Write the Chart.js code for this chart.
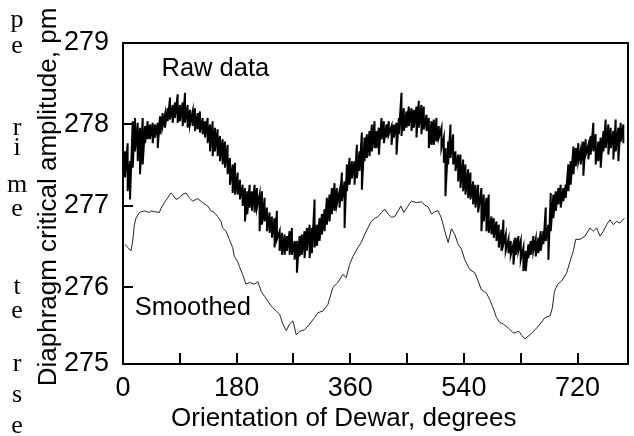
<!DOCTYPE html>
<html>
<head>
<meta charset="utf-8">
<script src="https://cdn.jsdelivr.net/npm/chart.js@4.4.1/dist/chart.umd.min.js"></script>
<style>
  html, body { margin: 0; padding: 0; background: #fff; }
  #wrap { position: relative; width: 634px; height: 436px; }
</style>
</head>
<body>
<div id="wrap"><canvas id="c" width="634" height="436"></canvas></div>
<script>
// ---- axis settings / tick labels ----
const xMin = 0, xMax = 800, xStep = 90;
const xTickLabels = [0, 180, 360, 540, 720];
const yMin = 275.06, yMax = 279;
const yTickLabels = [275, 276, 277, 278, 279];

// ---- raw data: orientation (degrees) with upper and lower extent of the noisy trace ----
const rawDeg = [
  0, 3.2, 7.4, 11.1, 15.4, 19.1, 23.3, 27.0, 31.2, 34.9,
  39.1, 42.8, 47.0, 50.7, 55.0, 58.6, 62.8, 66.5, 70.8, 74.5,
  78.7, 82.4, 86.6, 90.3, 94.5, 98.2, 102.4, 106.1, 110.3, 114.0,
  118.3, 121.9, 126.2, 129.9, 134.1, 137.8, 142.0, 145.7, 149.9, 153.6,
  157.8, 161.5, 165.7, 169.4, 173.7, 177.4, 181.6, 185.3, 189.5, 193.2,
  196.9, 200.6, 204.3, 208.5, 212.2, 216.4, 220.1, 224.3, 228.0, 232.2,
  235.9, 240.1, 243.8, 248.1, 251.8, 256.0, 259.7, 263.9, 267.6, 271.8,
  275.5, 279.7, 283.4, 287.6, 291.3, 295.6, 299.2, 303.5, 307.2, 311.4,
  315.1, 319.3, 323.0, 327.2, 330.9, 335.1, 338.8, 343.0, 346.7, 351.0,
  354.7, 358.9, 362.6, 366.8, 370.5, 374.7, 378.4, 382.6, 386.3, 390.5,
  394.2, 398.5,
  401.6, 405.3, 409.5, 413.2, 417.4, 421.1, 425.4, 429.0, 433.3, 437.0,
  441.2, 444.9, 449.1, 452.8, 457.0, 460.7, 464.9, 468.6, 472.8, 476.5,
  480.8, 484.5, 488.7, 492.4, 496.6, 500.3, 504.5, 508.2, 510.8, 515.1,
  518.8, 523.0, 526.7, 530.9, 534.6, 538.8, 542.5, 546.7, 550.4, 554.6,
  558.3, 562.6, 567.8, 571.5, 575.7, 579.4, 583.7, 587.4, 591.6, 595.3,
  599.5,
  602.6, 606.3, 610.6, 614.3, 618.5, 622.2, 626.4, 630.1, 634.3, 638.0,
  642.2, 645.9, 650.1, 653.8, 658.1, 661.7, 666.0, 669.7, 673.9, 677.6,
  681.8, 685.5, 689.7, 693.4, 697.6, 701.3, 705.5, 709.2, 713.5, 717.2,
  721.4, 725.1, 729.3, 733.0, 737.2, 740.9, 745.1, 748.8, 753.0, 756.7,
  761.0, 764.6, 768.9, 772.6, 776.8, 780.5, 784.7, 788.4, 792.6
];
const rawHigh = [
  277.69, 277.67, 277.77, 277.55, 278.04, 278.08, 278.02, 277.96, 278.08, 277.98,
  278.04, 278.00, 278.02, 278.00, 278.02, 278.10, 278.14, 278.12, 278.20, 278.33,
  278.24, 278.27, 278.37, 278.24, 278.27, 278.39, 278.24, 278.18, 278.16, 278.20,
  278.14, 278.16, 278.08, 278.04, 278.08, 278.00, 278.04, 277.96, 277.94, 277.86,
  277.82, 277.79, 277.75, 277.59, 277.51, 277.53, 277.41, 277.32, 277.26, 277.22,
  277.18, 277.26, 277.18, 277.26, 277.22, 277.14, 277.18, 277.10, 276.98, 276.92,
  276.87, 276.85, 276.94, 276.69, 276.67, 276.65, 276.63, 276.69, 276.73, 276.57,
  276.57, 276.63, 276.65, 276.69, 276.73, 276.77, 276.73, 277.08, 276.77, 276.85,
  276.90, 276.96, 277.10, 277.14, 277.22, 277.28, 277.22, 277.18, 277.41, 277.30,
  277.51, 277.59, 277.55, 277.55, 277.75, 277.67, 277.90, 277.84, 277.88, 277.92,
  278.00, 278.04,
  277.92, 277.96, 278.08, 278.04, 278.00, 278.04, 277.98, 278.00, 278.02, 278.08,
  278.39, 278.20, 278.16, 278.22, 278.20, 278.18, 278.22, 278.29, 278.24, 278.22,
  278.12, 278.08, 278.04, 278.06, 278.08, 277.98, 277.96, 277.84, 277.71, 277.79,
  278.00, 277.88, 277.67, 277.63, 277.63, 277.57, 277.51, 277.45, 277.41, 277.30,
  277.26, 277.26, 277.22, 277.14, 277.10, 277.14, 276.87, 276.85, 276.81, 276.77,
  276.71,
  276.83, 276.65, 276.59, 276.57, 276.53, 276.61, 276.63, 276.57, 276.49, 276.45,
  276.53, 276.57, 276.63, 276.59, 276.61, 276.69, 276.69, 276.98, 276.77, 277.16,
  277.14, 277.18, 277.22, 277.26, 277.22, 277.26, 277.51, 277.55, 277.73, 277.71,
  277.77, 277.69, 277.79, 277.82, 277.75, 277.86, 278.02, 277.88, 277.79, 277.84,
  277.92, 278.06, 278.00, 277.96, 277.92, 278.06, 277.96, 278.02, 278.00
];
const rawLow = [
  277.47, 277.35, 277.18, 277.08, 277.47, 277.67, 277.55, 277.39, 277.51, 277.77,
  277.82, 277.82, 277.77, 277.84, 277.71, 277.88, 277.98, 277.96, 278.04, 278.06,
  278.02, 278.08, 278.02, 278.04, 277.98, 278.02, 277.96, 278.00, 277.98, 277.92,
  277.94, 277.90, 277.88, 277.84, 277.77, 277.67, 277.61, 277.67, 277.61, 277.55,
  277.51, 277.47, 277.39, 277.26, 277.16, 277.14, 277.14, 277.08, 277.00, 276.81,
  276.90, 276.98, 276.94, 276.92, 276.98, 276.69, 276.77, 276.81, 276.69, 276.67,
  276.61, 276.49, 276.59, 276.45, 276.40, 276.40, 276.45, 276.40, 276.40, 276.34,
  276.18, 276.38, 276.40, 276.36, 276.45, 276.36, 276.42, 276.49, 276.51, 276.57,
  276.65, 276.69, 276.77, 276.81, 276.90, 276.94, 277.02, 276.98, 277.06, 276.73,
  277.18, 277.26, 277.34, 277.26, 277.34, 277.43, 277.20, 277.55, 277.59, 277.61,
  277.67, 277.71,
  277.71, 277.63, 277.82, 277.77, 277.84, 277.88, 277.75, 277.84, 277.63, 277.88,
  277.86, 277.92, 277.96, 277.98, 277.92, 277.96, 277.84, 277.96, 277.88, 277.94,
  277.92, 277.71, 277.75, 277.75, 277.79, 277.84, 277.71, 277.53, 277.12, 277.51,
  277.59, 277.51, 277.43, 277.30, 277.22, 277.18, 277.14, 277.10, 277.08, 277.02,
  276.98, 276.92, 276.69, 276.81, 276.69, 276.67, 276.65, 276.61, 276.57, 276.49,
  276.45,
  276.53, 276.45, 276.42, 276.40, 276.28, 276.40, 276.45, 276.34, 276.20, 276.20,
  276.36, 276.40, 276.45, 276.38, 276.42, 276.45, 276.53, 276.57, 276.34, 276.69,
  276.85, 276.94, 277.02, 276.98, 277.06, 277.10, 277.18, 277.26, 277.39, 277.49,
  277.55, 277.51, 277.37, 277.63, 277.57, 277.63, 277.67, 277.51, 277.55, 277.47,
  277.67, 277.71, 277.63, 277.71, 277.57, 277.67, 277.55, 277.79, 277.77
];

// ---- smoothed curve ----
const smoothDeg = [
  3.2, 7.4, 12.7, 15.4, 18.0, 20.6, 25.9, 33.8, 41.7, 44.4,
  49.6, 57.6, 60.2, 65.5, 70.8, 76.0, 78.7, 84.0, 89.2, 94.5,
  99.8, 105.1, 110.3, 118.3, 126.2, 134.1, 139.4, 144.6, 149.9, 155.2,
  157.8, 163.1, 168.4, 173.7, 176.3, 181.6, 184.2, 189.5, 194.8, 200.6,
  208.5, 213.8, 219.0, 224.3, 229.6, 234.9, 242.8, 248.1, 253.3, 258.6,
  263.9, 269.2, 274.4, 279.7, 287.6, 295.5, 303.5, 308.7, 316.7, 324.6,
  332.5, 340.4, 348.3, 353.6, 358.9, 364.2, 372.1, 377.3, 385.3, 393.2,
  399.0, 404.2, 409.5, 414.8, 420.1, 425.4, 430.6, 435.9, 440.1, 444.9,
  450.7, 457.0, 464.9, 472.8, 478.1, 483.4, 488.7, 494.0, 499.2, 504.5,
  509.8, 515.1, 520.3, 525.6, 530.9, 536.2, 541.4, 549.4, 557.3, 562.6,
  567.8, 575.7, 581.0, 586.3, 591.6, 596.9, 602.6, 610.6, 618.5, 627.4,
  631.7, 636.9, 644.9, 652.8, 660.7, 668.6, 676.5, 680.2, 683.4, 688.7,
  695.0, 702.9, 708.2, 713.5, 717.2, 724.0, 731.9, 739.8, 745.1, 750.4,
  755.7, 761.0, 766.2, 771.5, 776.8, 782.1, 787.3, 794.2
];
const smoothVal = [
  276.53, 276.49, 276.45, 276.57, 276.77, 276.85, 276.92, 276.94, 276.92, 276.94,
  276.93, 276.92, 276.97, 277.04, 277.10, 277.16, 277.14, 277.08, 277.10, 277.14,
  277.16, 277.10, 277.06, 277.09, 277.04, 277.00, 276.94, 276.92, 276.87, 276.81,
  276.73, 276.69, 276.59, 276.49, 276.38, 276.32, 276.26, 276.16, 276.04, 276.06,
  276.04, 276.07, 275.95, 275.89, 275.83, 275.77, 275.71, 275.67, 275.55, 275.47,
  275.55, 275.59, 275.42, 275.46, 275.48, 275.55, 275.63, 275.69, 275.71, 275.79,
  276.00, 276.06, 276.16, 276.12, 276.28, 276.38, 276.49, 276.55, 276.69, 276.81,
  276.85, 276.87, 276.92, 276.96, 276.90, 276.86, 276.87, 276.94, 277.00, 276.92,
  276.99, 277.06, 277.04, 277.05, 277.01, 276.99, 276.90, 276.93, 276.94, 276.85,
  276.69, 276.55, 276.72, 276.65, 276.53, 276.47, 276.34, 276.22, 276.18, 276.08,
  275.97, 275.93, 275.85, 275.75, 275.63, 275.57, 275.55, 275.50, 275.44, 275.46,
  275.41, 275.37, 275.42, 275.48, 275.55, 275.63, 275.65, 275.75, 275.95, 276.04,
  276.08, 276.18, 276.32, 276.45, 276.59, 276.59, 276.63, 276.73, 276.69, 276.73,
  276.63, 276.69, 276.77, 276.83, 276.77, 276.81, 276.79, 276.85
];

// ---- texts ----
const xTitle = 'Orientation of Dewar, degrees';
const yTitle = 'Diaphragm critical amplitude, pm';
const rawLabel = 'Raw data';
const smoothLabel = 'Smoothed';
const sideLetters = ['p', 'e', 'r', 'i', 'm', 'e', 't', 'e', 'r', 's', 'e'];

// ---- build datasets ----
const rawPoints = [];
rawDeg.forEach((d, i) => {
  rawPoints.push({ x: d, y: rawHigh[i] });
  rawPoints.push({ x: d, y: rawLow[i] });
});
const smoothPoints = smoothDeg.map((d, i) => ({ x: d, y: smoothVal[i] }));

const SANS = "'Liberation Sans', Arial, Helvetica, sans-serif";
const SERIF = "'Liberation Serif', 'Times New Roman', serif";

const decor = {
  id: 'decor',
  afterDraw(chart) {
    const ctx = chart.ctx;
    const a = chart.chartArea;
    const xs = chart.scales.x, ys = chart.scales.y;
    ctx.save();
    ctx.strokeStyle = '#000';
    ctx.fillStyle = '#000';
    // frame
    ctx.lineWidth = 2;
    ctx.strokeRect(a.left, a.top, a.right - a.left, a.bottom - a.top);
    // inward tick marks
    ctx.beginPath();
    xs.ticks.forEach(t => {
      if (t.value <= xMin || t.value >= xMax) return;
      const px = Math.round(xs.getPixelForValue(t.value));
      ctx.moveTo(px, a.bottom);
      ctx.lineTo(px, a.bottom - 11);
    });
    ys.ticks.forEach(t => {
      if (t.value <= yMin + 0.01 || t.value >= yMax) return;
      const py = Math.round(ys.getPixelForValue(t.value));
      ctx.moveTo(a.left, py);
      ctx.lineTo(a.left + 10, py);
    });
    ctx.stroke();
    // axis titles
    ctx.font = '26px ' + SANS;
    ctx.textAlign = 'left';
    ctx.textBaseline = 'alphabetic';
    ctx.fillText(xTitle, 171, 426);
    ctx.save();
    ctx.translate(56, 197);
    ctx.rotate(-Math.PI / 2);
    ctx.textAlign = 'center';
    ctx.fillText(yTitle, 0, 0);
    ctx.restore();
    // curve labels
    ctx.font = '25.5px ' + SANS;
    ctx.textAlign = 'left';
    ctx.fillText(rawLabel, xs.getPixelForValue(61), ys.getPixelForValue(278.59));
    ctx.fillText(smoothLabel, xs.getPixelForValue(18.5), ys.getPixelForValue(275.66));
    // side letters
    ctx.font = '26px ' + SERIF;
    ctx.textAlign = 'center';
    const baselines = [27, 53, 135, 155, 192, 216, 294, 318, 371, 402, 433];
    sideLetters.forEach((ch, i) => ctx.fillText(ch, 17, baselines[i]));
    ctx.restore();
  }
};

new Chart(document.getElementById('c'), {
  type: 'line',
  data: {
    datasets: [
      {
        label: rawLabel,
        data: rawPoints,
        borderColor: '#000',
        borderWidth: 2,
        pointRadius: 0,
        tension: 0,
        fill: false
      },
      {
        label: smoothLabel,
        data: smoothPoints,
        borderColor: '#222',
        borderWidth: 1,
        pointRadius: 0,
        tension: 0,
        fill: false
      }
    ]
  },
  options: {
    responsive: false,
    animation: false,
    devicePixelRatio: 1,
    layout: { padding: { left: 0, top: 43, right: 6, bottom: 0 } },
    plugins: { legend: { display: false }, tooltip: { enabled: false }, title: { display: false } },
    scales: {
      x: {
        type: 'linear',
        min: xMin, max: xMax,
        grid: { display: false },
        border: { display: false },
        afterBuildTicks: s => {
          const t = [];
          for (let v = xMin; v < xMax; v += xStep) t.push({ value: v });
          s.ticks = t;
        },
        ticks: {
          autoSkip: false,
          maxRotation: 0,
          padding: 0,
          color: '#000',
          font: { family: SANS, size: 27 },
          callback: v => (xTickLabels.includes(v) ? String(v) : '')
        },
        afterFit: s => { s.height = 72; }
      },
      y: {
        type: 'linear',
        min: yMin, max: yMax,
        grid: { display: false },
        border: { display: false },
        afterBuildTicks: s => { s.ticks = yTickLabels.map(v => ({ value: Math.max(v, yMin) })); },
        ticks: {
          padding: 6,
          color: '#000',
          font: { family: SANS, size: 27 },
          callback: v => String(Math.round(v))
        },
        afterFit: s => { s.width = 123; }
      }
    }
  },
  plugins: [decor]
});
</script>
</body>
</html>
